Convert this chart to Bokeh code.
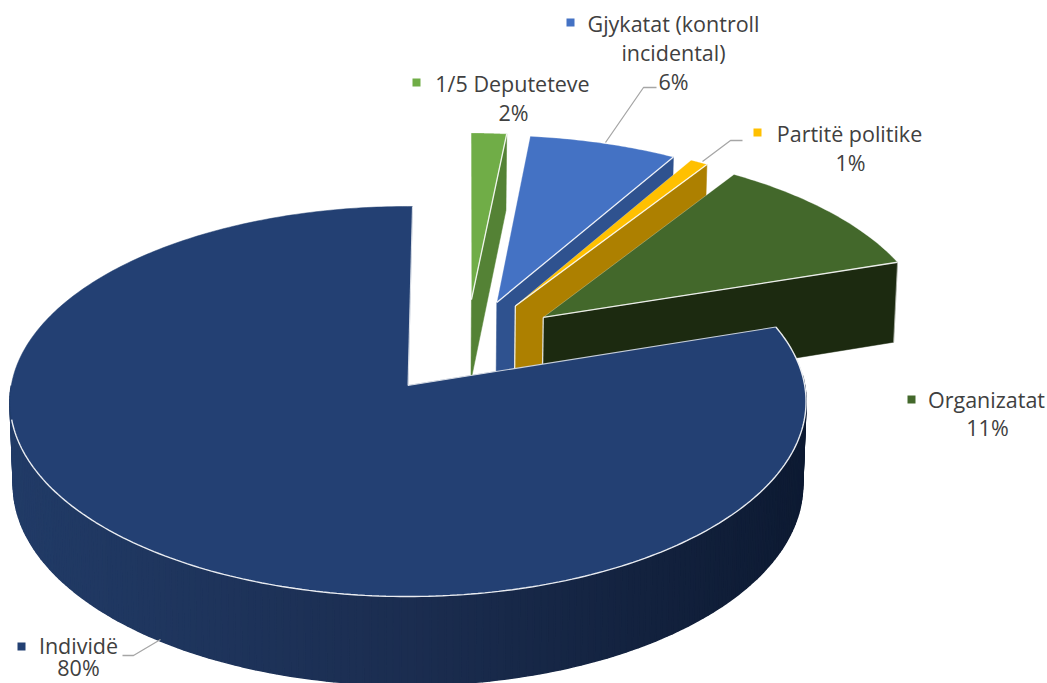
import math
from bokeh.plotting import figure
from bokeh.embed import file_html
from bokeh.resources import INLINE
from bokeh.core.properties import value

# --- data -------------------------------------------------------------
names = ["1/5 Deputeteve", "Gjykatat (kontroll\nincidental)", "Partitë politike", "Organizatat", "Individë"]
shares = [1.6, 6.7, 0.8, 10.7, 80.2]
labels = ["2%", "6%", "1%", "11%", "80%"]

# --- style ------------------------------------------------------------
top_colors = ["#70ad47", "#4472c4", "#ffc000", "#43682b", "#234073"]
wall_colors = ["#548235", "#2f528f", "#ad8000", "#1c2a10", "#1b2d50"]
explode = [(0.166, 0.46), (0.232, 0.4445), (0.280, 0.425), (0.351, 0.362), (0.0, 0.0)]

START = 0.7
CX, CY = 407.5, 385.0
SX, SY, KY = 396.7, 193.7, 0.082
DEPTH, KZ = 84.0, 0.0085
TEXT = "#404040"
FONT = value("Open Sans")
FS = "21.5px"


def proj(X, Y, Z=0.0):
    w = 1 + KY * Y + KZ * Z
    return CX + SX * X / w, CY + (-SY * Y + DEPTH * Z) / w


def rim(theta, off, Z=0.0):
    t = math.radians(theta)
    return proj(math.sin(t) + off[0], math.cos(t) + off[1], Z)


def lerp(c1, c2, f):
    return "#%02x%02x%02x" % tuple(int(round(a + (b - a) * f)) for a, b in zip(c1, c2))


def wall_color(x):
    f = min(1.0, max(0.0, (x - 8) / 798.0))
    if f < 0.5:
        return lerp((33, 59, 103), (27, 45, 80), f / 0.5)
    return lerp((27, 45, 80), (13, 26, 50), (f - 0.5) / 0.5)


p = figure(width=1047, height=683, x_range=(0, 1047), y_range=(683, 0),
           output_backend="svg", toolbar_location=None, min_border=0,
           background_fill_color="white", border_fill_color="white")
p.axis.visible = False
p.grid.visible = False
p.outline_line_color = None

edges = []
acc = 0.0
for v in shares:
    edges.append((acc, acc + v))
    acc += v
total = acc

# exploded slices, back to front
for i in range(4):
    a0, a1 = [START + e / total * 360.0 for e in edges[i]]
    off = explode[i]
    ax, ay = proj(off[0], off[1])
    bx, by = proj(off[0], off[1], 1)
    r1x, r1y = rim(a1, off)
    r1bx, r1by = rim(a1, off, 1)
    # cut wall at the clockwise edge
    p.patch([ax, r1x, r1bx, bx], [ay, r1y, r1by, by], fill_color=wall_colors[i], line_color=wall_colors[i], line_width=0.5)
    n = 40
    arc = [rim(a0 + (a1 - a0) * k / n, off) for k in range(n + 1)]
    xs = [ax] + [q[0] for q in arc]
    ys = [ay] + [q[1] for q in arc]
    p.patch(xs, ys, fill_color=top_colors[i], line_color="white", line_alpha=0.35, line_width=0.8)
    p.line([ax, r1x], [ay, r1y], line_color="white", line_alpha=0.85, line_width=1.3)
    if i >= 2:
        p.line([ax, bx], [ay, by], line_color="white", line_alpha=0.85, line_width=1.3)
    if i == 3:
        p.line([r1x, r1bx], [r1y, r1by], line_color="white", line_alpha=0.6, line_width=0.8)

# main slice: shaded outer wall (only the part that faces the viewer)
a0, a1 = [START + e / total * 360.0 for e in edges[4]]
off = explode[4]
w0, w1 = a0 + 15.0, 270.0
sx, sy, sc = [], [], []
steps = int(w1 - w0)
for k in range(steps):
    t0 = w0 + (w1 - w0) * k / steps
    t1 = w0 + (w1 - w0) * (k + 1) / steps
    q = [rim(t0, off), rim(t1, off), rim(t1, off, 1), rim(t0, off, 1)]
    sx.append([c[0] for c in q])
    sy.append([c[1] for c in q])
    sc.append(wall_color(sum(c[0] for c in q) / 4))
p.patches(sx, sy, fill_color=sc, line_color=sc, line_width=1.5)

# main slice: top face
n = 360
arc = [rim(a0 + (a1 - a0) * k / n, off) for k in range(n + 1)]
p.patch([CX] + [q[0] for q in arc], [CY] + [q[1] for q in arc], fill_color=top_colors[4], line_color=top_colors[4], line_width=0.5)
front = [rim(t, off) for t in [a0 + (260 - a0) * k / 200 for k in range(201)]]
p.line([q[0] for q in front], [q[1] for q in front], line_color="white", line_alpha=0.9, line_width=1.4)
s0 = rim(a0, off)
p.line([CX, s0[0]], [CY, s0[1]], line_color="white", line_alpha=0.75, line_width=1.1)
s1 = rim(a1, off)
p.line([CX, s1[0]], [CY, s1[1]], line_color="white", line_alpha=0.75, line_width=1.1)

# leader lines
leaders_x = [[605, 643, 656], [702, 730, 742], [160, 133, 122]]
leaders_y = [[142, 87, 87], [161, 140, 140], [639, 655, 655]]
p.multi_line(leaders_x, leaders_y, line_color="#a6a6a6", line_width=1.3)

# labels: legend key position, name line centres and label centre
key_x = [416, 570, 757, 911, 21]
key_y = [82, 22, 132, 399, 646]
name_x = [512, 673, 849, 986, 78]
name_y = [83, 23, 133, 399, 645]
label_x = [513, 673, 850, 987, 78]
label_y = [112, 81, 162, 427, 667]
LINE = 29

p.scatter(key_x, key_y, marker="square", size=8, fill_color=top_colors, line_color=None)
tx, ty, tt = [], [], []
for i, nm in enumerate(names):
    for j, part in enumerate(nm.split("\n")):
        tx.append(name_x[i])
        ty.append(name_y[i] + j * LINE)
        tt.append(part)
    tx.append(label_x[i])
    ty.append(label_y[i])
    tt.append(labels[i])
p.text(tx, ty, text=tt, text_font=FONT, text_font_size=FS, text_color=TEXT,
       text_align="center", text_baseline="middle")

open("out.html", "w").write(file_html(p, INLINE))
